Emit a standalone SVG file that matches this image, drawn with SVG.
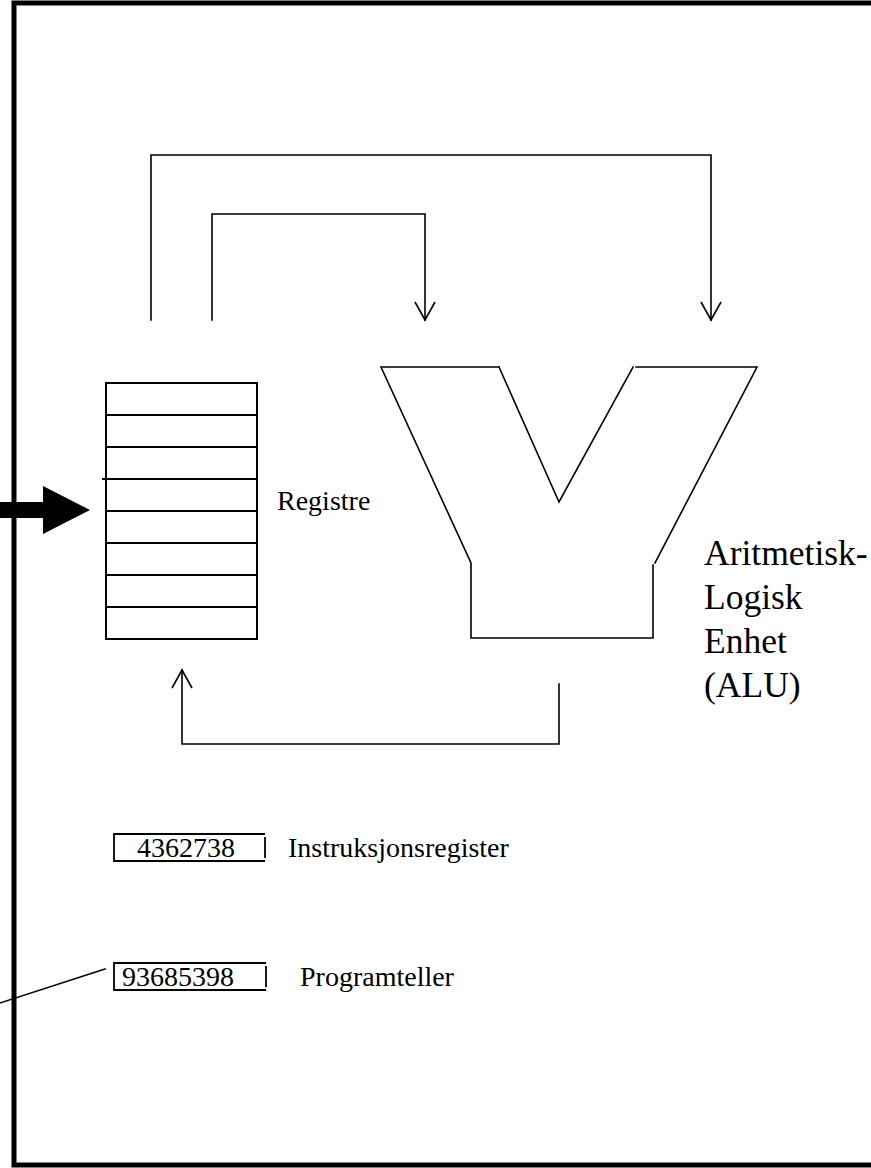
<svg xmlns="http://www.w3.org/2000/svg" width="871" height="1168" viewBox="0 0 871 1168">
  <style>
    .ln { fill: none; stroke: #000; stroke-width: 1.6; stroke-linecap: square; }
    .box { fill: none; stroke: #000; stroke-width: 1.8; }
    .txt { font-family: "Liberation Serif", "Times New Roman", serif; fill: #000; }
  </style>
  <defs>
    <marker id="open" markerWidth="24" markerHeight="24" refX="20" refY="12" orient="auto" markerUnits="userSpaceOnUse" viewBox="0 0 24 24">
      <path d="M2,2 L20,12 L2,22" fill="none" stroke="#000" stroke-width="1.6"/>
    </marker>
  </defs>
  <rect width="871" height="1168" fill="#fff"/>

  <!-- outer frame (right side runs past the canvas) -->
  <rect id="frame" x="14" y="3" width="900" height="1162" fill="none" stroke="#000" stroke-width="5"/>

  <!-- register file -->
  <g id="registers">
    <rect x="106" y="383" width="151" height="256" fill="none" stroke="#000" stroke-width="2"/>
    <g class="ln" style="stroke-width:2">
      <line x1="106" y1="415" x2="257" y2="415"/>
      <line x1="106" y1="447" x2="257" y2="447"/>
      <line x1="103" y1="479" x2="255" y2="479"/>
      <line x1="106" y1="511" x2="257" y2="511"/>
      <line x1="106" y1="543" x2="257" y2="543"/>
      <line x1="106" y1="575" x2="257" y2="575"/>
      <line x1="106" y1="607" x2="257" y2="607"/>
    </g>
    <text class="txt" x="277" y="510" font-size="28">Registre</text>
  </g>

  <!-- input arrow into registers -->
  <g id="input-arrow">
    <polygon points="0,502 43,502 43,486 90,510 43,534 43,518 0,518" fill="#000"/>
  </g>

  <!-- ALU -->
  <g id="alu">
    <path class="ln" d="M499,367 H381 L471,563 V638 H653 V565"/>
    <path class="ln" d="M499,367 L559,502 L633,367"/>
    <path class="ln" d="M636,367 H757 L655,563"/>
    <text class="txt" font-size="35.5">
      <tspan x="704" y="565">Aritmetisk-</tspan>
      <tspan x="704" y="609">Logisk</tspan>
      <tspan x="704" y="653">Enhet</tspan>
      <tspan x="704" y="697">(ALU)</tspan>
    </text>
  </g>

  <!-- instruction register: box drawn edge by edge, right edge detached at the top -->
  <g id="instruction-register">
    <path class="box" d="M265,834 H114 V861 H265"/>
    <line class="box" x1="265" y1="837" x2="265" y2="858"/>
    <text class="txt" x="137" y="857" font-size="28">4362738</text>
    <text class="txt" x="288" y="857" font-size="28">Instruksjonsregister</text>
  </g>

  <!-- program counter -->
  <g id="program-counter">
    <path class="box" d="M266,963 H114 V990 H266"/>
    <line class="box" x1="266" y1="966" x2="266" y2="987"/>
    <text class="txt" x="122" y="986" font-size="28">93685398</text>
    <text class="txt" x="300" y="986" font-size="28">Programteller</text>
  </g>

  <!-- data paths -->
  <g id="connectors">
    <path class="ln" d="M151,320 V155 H711 V320" marker-end="url(#open)"/>
    <path class="ln" d="M212,320 V214 H425 V320" marker-end="url(#open)"/>
    <path class="ln" d="M559,684 V744 H182 V670" marker-end="url(#open)"/>
    <line class="ln" x1="105" y1="969" x2="0" y2="1003"/>
  </g>
</svg>
